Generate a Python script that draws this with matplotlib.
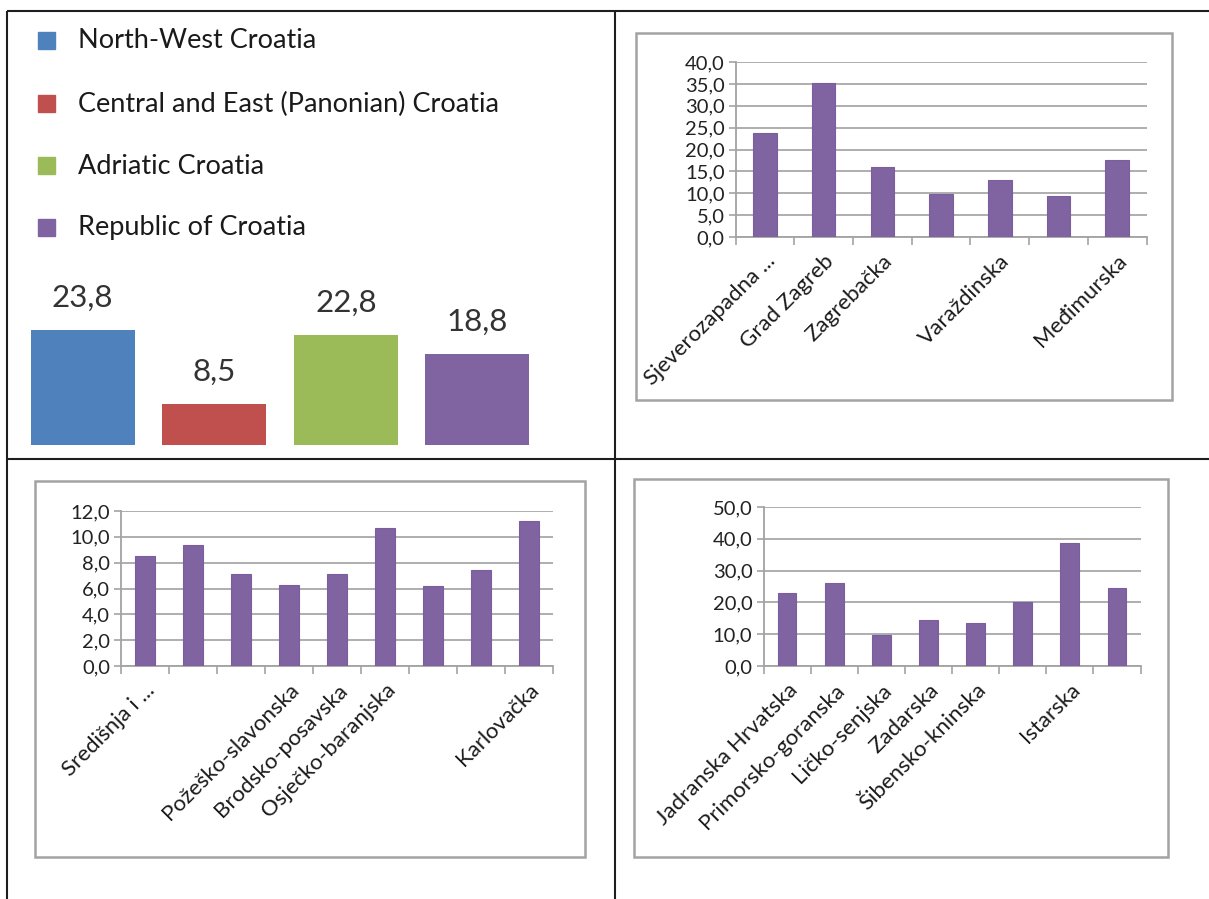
import matplotlib
matplotlib.use('Agg')
import numpy as np
import matplotlib.pyplot as plt
from matplotlib.patches import Rectangle
from matplotlib.ticker import FuncFormatter

plt.rcParams['font.family'] = ['Lato', 'DejaVu Sans']

# regional averages
regions = ['North-West Croatia', 'Central and East (Panonian) Croatia',
           'Adriatic Croatia', 'Republic of Croatia']
region_values = [23.8, 8.5, 22.8, 18.8]
region_colors = ['#4F81BD', '#C0504D', '#9BBB59', '#8064A2']

# counties, north-west
nw_labels = ['Sjeverozapadna ...', 'Grad Zagreb', 'Zagrebačka', '',
             'Varaždinska', '', 'Međimurska']
nw_values = [23.8, 35.2, 16.1, 9.8, 13.1, 9.4, 17.7]

# counties, central and east
ce_labels = ['Središnja i ...', '', '', 'Požeško-slavonska', 'Brodsko-posavska',
             'Osječko-baranjska', '', '', 'Karlovačka']
ce_values = [8.5, 9.4, 7.1, 6.3, 7.1, 10.7, 6.2, 7.4, 11.2]

# counties, adriatic
ad_labels = ['Jadranska Hrvatska', 'Primorsko-goranska', 'Ličko-senjska', 'Zadarska',
             'Šibensko-kninska', '', 'Istarska', '']
ad_values = [22.8, 26.0, 9.9, 14.6, 13.5, 20.0, 38.7, 24.5]

W, H = 1209, 899
fig = plt.figure(figsize=(W / 100, H / 100), dpi=100)


def px_axes(x0, y0, x1, y1, **kw):
    return fig.add_axes([x0 / W, 1 - y1 / H, (x1 - x0) / W, (y1 - y0) / H], **kw)


def comma(v, pos=None):
    return f'{v:.1f}'.replace('.', ',')


# page: table grid, chart frames, legend
page = px_axes(0, 0, W, H)
page.set_xlim(0, W)
page.set_ylim(H, 0)
page.axis('off')
grid_kw = dict(color='#1e1e1e', lw=1.5, solid_capstyle='butt')
page.plot([7, W], [11, 11], **grid_kw)
page.plot([7, 7], [11, H], **grid_kw)
page.plot([615, 615], [11, H], **grid_kw)
page.plot([7, W], [459, 459], **grid_kw)

for (x0, y0, x1, y1) in [(636, 33, 1172, 400), (35, 481, 585, 857), (634, 479, 1168, 857)]:
    page.add_patch(Rectangle((x0, y0), x1 - x0, y1 - y0, fill=False,
                             edgecolor='#a3a3a3', lw=1.8))

for name, col, y in zip(regions, region_colors, [41, 104, 166, 228]):
    page.add_patch(Rectangle((38, y - 9), 17, 17, color=col))
    page.text(78, y, name, fontsize=19.5, color='#1a1a1a', va='center', ha='left')

# regional bars with value labels
ax0 = px_axes(16.7, 270, 543.3, 445)
ax0.bar(range(len(region_values)), region_values, width=0.79, color=region_colors)
for i, v in enumerate(region_values):
    ax0.annotate(comma(v), (i, v), xytext=(0, 13), textcoords='offset points',
                 ha='center', va='bottom', fontsize=22.5, color='#333333')
ax0.set_xlim(-0.5, len(region_values) - 0.5)
ax0.set_ylim(0, 36.2)
ax0.axis('off')


def county_chart(box, labels, values, ymax, step):
    ax = px_axes(*box)
    x = np.arange(len(values))
    ax.bar(x, values, width=0.4, color='#8064A2', edgecolor='#7b5e9e', lw=0.8, zorder=3)
    ax.set_xlim(-0.5, len(values) - 0.5)
    ax.set_ylim(0, ymax)
    ax.set_yticks(np.arange(0, ymax + step / 2, step))
    ax.yaxis.set_major_formatter(FuncFormatter(comma))
    ax.grid(axis='y', color='#a8a8a8', lw=1.3)
    ax.set_axisbelow(True)
    for s in ['top', 'right']:
        ax.spines[s].set_visible(False)
    for s in ['left', 'bottom']:
        ax.spines[s].set_color('#a3a3a3')
        ax.spines[s].set_linewidth(1.3)
    ax.set_xticks(x)
    ax.set_xticklabels(labels, rotation=45, ha='right', rotation_mode='anchor',
                       fontsize=16, color='#1a1a1a')
    ax.set_xticks(np.arange(-0.5, len(values)), minor=True)
    ax.tick_params(axis='x', which='major', length=0, pad=10)
    ax.tick_params(axis='x', which='minor', length=6, width=1.2, color='#a3a3a3')
    ax.tick_params(axis='y', length=5, width=1.2, color='#a3a3a3',
                   labelsize=14.5, labelcolor='#222222', pad=3)
    ax.patch.set_alpha(0)
    return ax


county_chart((735.7, 62, 1146.5, 237), nw_labels, nw_values, 40, 5)
county_chart((121, 511, 553, 666), ce_labels, ce_values, 12, 2)
county_chart((763.5, 507, 1140.6, 666), ad_labels, ad_values, 50, 10)

fig.savefig('out.png', dpi=100)
